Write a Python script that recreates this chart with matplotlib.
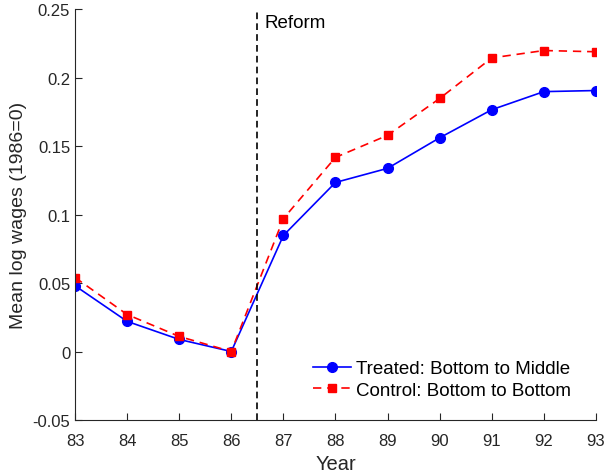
import matplotlib
matplotlib.use("Agg")
import matplotlib.pyplot as plt
import numpy as np

plt.rcParams["font.family"] = ["Liberation Sans", "DejaVu Sans"]

years = [83, 84, 85, 86, 87, 88, 89, 90, 91, 92, 93]
treated = [0.048, 0.022, 0.0088, 0.0, 0.0847, 0.1234, 0.1337, 0.156, 0.1765, 0.1897, 0.1905]
control = [0.054, 0.027, 0.011, 0.0, 0.097, 0.1417, 0.1578, 0.1847, 0.2143, 0.2197, 0.2188]
reform_x = 86.5

fig = plt.figure(figsize=(6.05, 4.77), dpi=100)
ax = fig.add_axes([0.124, 0.1174, 0.861, 0.8616])

ax.plot(years, treated, "-o", color="blue", lw=1.2, ms=7, label="Treated: Bottom to Middle")
ax.plot(years, control, "--s", color="red", lw=1.2, ms=6, dashes=(5, 3.5),
        label="Control: Bottom to Bottom")
ax.axvline(reform_x, color="black", ls="--", lw=1.2, dashes=(4, 2.5))
ax.text(reform_x + 0.13, 0.246, "Reform", fontsize=13.5, va="top", ha="left")

ax.set_xlim(83, 93)
ax.set_ylim(-0.05, 0.25)
ax.set_xticks(years)
ax.set_yticks([-0.05, 0, 0.05, 0.1, 0.15, 0.2, 0.25])
ax.set_yticklabels(["-0.05", "0", "0.05", "0.1", "0.15", "0.2", "0.25"])
ax.spines["top"].set_visible(False)
ax.spines["right"].set_visible(False)
for s in ("left", "bottom"):
    ax.spines[s].set_color("#262626")
    ax.spines[s].set_linewidth(0.8)
ax.tick_params(direction="in", length=5, width=0.8, colors="#262626", labelsize=12)
ax.tick_params(axis="x", pad=9)
ax.set_xlabel("Year", fontsize=14.5, color="#262626", labelpad=5)
ax.set_ylabel("Mean log wages (1986=0)", fontsize=14, color="#262626", labelpad=4)

ax.legend(loc="lower right", frameon=False, fontsize=13.5, handlelength=2.0,
          bbox_to_anchor=(0.985, 0.01), labelspacing=0.25, handletextpad=0.3)

fig.savefig("out.png", dpi=100)
